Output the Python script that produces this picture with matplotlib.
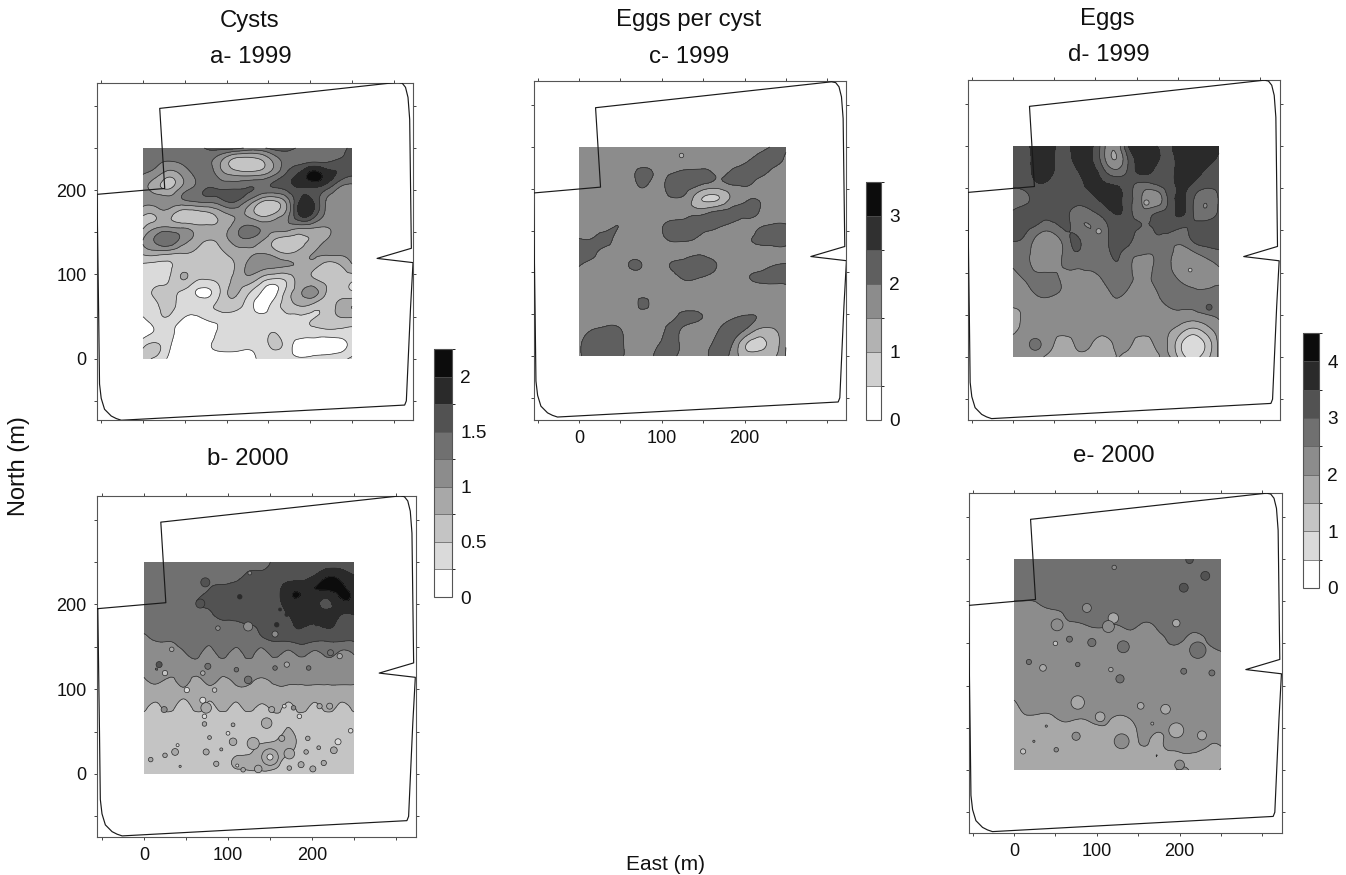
import numpy as np
import matplotlib
matplotlib.use("Agg")
import matplotlib.pyplot as plt
from matplotlib.colors import ListedColormap, BoundaryNorm
from matplotlib.cm import ScalarMappable
from matplotlib.patches import Rectangle
from matplotlib.tri import Triangulation, UniformTriRefiner

plt.rcParams['font.family'] = ['Liberation Sans', 'DejaVu Sans']

# sampling positions of every map (m); rows run north to south
east = [0, 15.6, 31.25, 46.9, 62.5, 78.1, 93.75, 109.4, 125, 140.6, 156.25, 171.9, 187.5, 203.1, 218.75, 234.4, 250]
north = east[::-1]

boundary_east = [-55, 26, 20, 305, 310, 314, 317, 319, 321, 280, 323, 320, 315, 313, -26, -32, -38, -46, -50, -52, -53, -55]
boundary_north = [195, 202, 297, 328, 327, 322, 310, 284, 131, 119, 114, 60, -50, -55, -73, -71, -68, -60, -47, -30, 50, 195]

cysts_1999 = [
 [1.35,1.35,1.35,1.35,1.4,1.55,1.6,1.6,1.45,1.45,1.6,1.6,1.45,1.4,1.4,1.45,1.55],
 [1.35,1.3,1.25,1.3,1.35,1.3,1.0,.65,.6,.7,1.05,1.35,1.4,1.45,1.45,1.55,1.7],
 [1.25,1.1,.85,1.05,1.3,1.4,1.1,.95,.9,.95,1.2,1.55,1.8,2.1,1.9,1.7,1.55],
 [1.15,.85,.7,1.05,1.3,1.5,1.45,1.45,1.5,1.45,1.5,1.6,1.75,1.75,1.6,1.25,1.15],
 [1.1,1.1,1.1,1.2,1.3,1.35,1.45,1.55,1.25,.85,.75,1.1,1.75,1.75,1.25,1.1,1.1],
 [.8,.8,.85,.6,.6,.7,.9,1.05,.95,.65,.75,1.1,1.8,1.7,1.2,1.1,1.1],
 [.7,.95,1.0,.95,.85,.8,.85,1.1,1.3,1.2,1.1,1.15,1.1,1.05,1.0,1.1,1.1],
 [1.0,1.3,1.45,1.15,.9,.75,.85,1.1,1.2,1.05,.75,.6,.65,.8,1.0,1.1,1.1],
 [.8,.85,.8,.75,.7,.65,.7,.85,.95,1.0,.9,.75,.85,1.0,1.05,1.05,1.05],
 [.45,.4,.45,.65,.6,.6,.6,.75,1.05,1.1,1.05,1.0,.95,.85,.6,.7,.95],
 [.45,.4,.5,.75,.55,.5,.6,.8,.9,.65,.45,.55,.85,.8,.65,.65,.55],
 [.4,.55,.6,.45,.25,.2,.55,.8,.55,.25,.15,.6,.95,1.1,.75,.6,.55],
 [.4,.45,.6,.4,.4,.45,.6,.6,.4,.15,.35,.6,.75,.65,.55,.85,1.0],
 [.2,.4,.45,.25,.15,.3,.35,.4,.4,.35,.4,.45,.45,.5,.6,.7,.7],
 [.1,.3,.35,.1,.05,.1,.35,.4,.4,.4,.5,.4,.4,.4,.4,.4,.4],
 [.45,.55,.3,.05,0,.2,.35,.35,.3,.35,.55,.4,.1,.1,.1,.15,.35],
 [.5,.45,.2,.05,0,.05,.1,.1,.15,.3,.35,.35,.3,.35,.4,.45,.55],
]

cysts_2000 = [
 [1.35,1.35,1.35,1.35,1.35,1.35,1.35,1.35,1.35,1.4,1.55,1.55,1.55,1.55,1.55,1.55,1.55],
 [1.35,1.35,1.35,1.35,1.35,1.35,1.35,1.4,1.55,1.55,1.6,1.6,1.6,1.75,1.95,1.9,1.75],
 [1.35,1.35,1.35,1.35,1.35,1.5,1.55,1.6,1.6,1.6,1.65,1.9,1.95,2.0,2.05,2.05,1.95],
 [1.35,1.35,1.35,1.35,1.5,1.55,1.55,1.6,1.6,1.6,1.65,1.9,1.95,1.85,1.7,1.95,1.95],
 [1.3,1.3,1.3,1.3,1.35,1.45,1.55,1.55,1.6,1.55,1.65,1.75,1.85,1.85,1.85,1.75,1.75],
 [1.3,1.3,1.3,1.3,1.3,1.35,1.4,1.45,1.45,1.55,1.65,1.7,1.75,1.7,1.75,1.65,1.6],
 [1.15,1.25,1.25,1.3,1.3,1.3,1.35,1.35,1.3,1.4,1.5,1.5,1.55,1.5,1.5,1.5,1.5],
 [1.15,1.1,1.15,1.2,1.3,1.15,1.3,1.15,1.3,1.15,1.3,1.15,1.3,1.15,1.3,1.15,1.25],
 [1.1,1.25,1.1,1.05,1.1,1.1,1.1,1.1,1.1,1.1,1.1,1.1,1.1,1.1,1.1,1.1,1.1],
 [.95,1.05,.95,1.05,.95,1.05,.95,1.05,1.05,.95,1.05,1.05,1.05,1.05,1.05,1.05,1.05],
 [.85,.85,.85,.85,.85,.85,.85,.85,.85,.85,.85,.85,.85,.85,.85,.85,.85],
 [.8,.7,.8,.65,.8,.7,.8,.7,.8,.7,.8,.7,.8,.7,.8,.7,.8],
 [.62,.62,.62,.62,.62,.62,.62,.62,.62,.62,.65,.7,.65,.62,.62,.62,.62],
 [.62,.62,.62,.62,.62,.62,.62,.62,.7,.65,.65,.8,.65,.62,.62,.62,.62],
 [.62,.62,.62,.62,.62,.62,.62,.62,.7,.8,.85,.85,.65,.62,.62,.62,.62],
 [.62,.62,.62,.62,.62,.62,.62,.8,.8,.85,.85,.65,.62,.62,.62,.62,.62],
 [.65,.62,.62,.62,.62,.62,.62,.62,.7,.7,.65,.65,.62,.62,.62,.62,.62],
]
b_x = [73,67,114,88,124,158,185,223,205,162,170,156,126,33,18,25,51,76,110,124,156,170,196,222,233,70,84,70,24,74,72,72,152,167,178,185,209,221,146,106,100,106,130,78,40,37,25,74,92,8,86,43,111,150,150,173,187,193,208,226,231,246,195,214,136,201,173,118,164]
b_y = [226,201,209,172,174,176,176,178,176,194,188,165,237,147,129,119,99,127,123,111,125,129,125,143,139,119,99,87,76,78,68,59,76,80,78,68,80,80,60,58,48,38,36,43,34,26,22,26,29,17,12,9,10,20,20,24,11,26,31,28,38,51,42,13,6,6,7,5,42]
b_v = [1.6,1.6,1.85,1.1,1.2,1.85,1.9,1.9,1.9,1.85,1.85,1.2,1.1,.85,1.6,.6,.3,1.35,1.35,1.35,1.35,.85,1.35,1.35,.85,.85,.6,.45,1.2,.85,.45,.85,.85,.45,1.2,.4,.85,.85,.85,.85,.45,.85,.85,.85,.45,.85,.85,.85,.85,.85,.85,.85,.45,.85,.45,.85,.85,.85,.85,.85,.45,.4,.85,.85,.85,.85,.85,.85,.85]
b_d = [12,12,6,6,12,6,8,8,3,4,5,8,5,6,8,7,7,8,6,10,6,7,6,8,7,6,6,8,8,14,6,6,8,5,6,6,7,8,14,5,5,10,16,5,4,9,6,8,4,6,7,3,4,22,8,14,8,6,5,9,8,6,6,7,10,8,6,6,8]

eggs_per_cyst = [
 [1.75,1.75,1.75,1.75,1.75,1.75,1.75,1.75,1.75,1.75,1.75,1.75,1.75,1.75,1.8,2.05,2.05],
 [1.75,1.75,1.75,1.75,1.75,1.75,1.75,1.75,1.75,1.75,1.75,1.75,1.75,1.95,2.2,2.2,1.9],
 [1.75,1.75,1.75,1.75,1.85,2.2,1.9,1.95,2.1,2.15,2.1,1.9,2.15,2.25,2.15,1.85,1.75],
 [1.75,1.75,1.75,1.75,1.75,2.05,1.75,2.2,2.25,2.05,1.75,1.75,1.95,2.0,1.75,1.75,1.75],
 [1.75,1.75,1.75,1.75,1.75,1.75,1.75,1.9,1.9,1.3,.9,1.1,1.7,1.95,1.95,1.75,1.75],
 [1.75,1.75,1.75,1.75,1.75,1.75,1.75,1.75,1.75,1.8,1.95,2.15,2.2,2.2,1.95,1.75,1.75],
 [1.75,1.75,1.8,2.0,1.75,1.75,1.85,2.15,2.25,2.25,2.2,2.05,1.85,1.75,1.95,2.05,2.05],
 [2.0,2.0,2.15,1.85,1.75,1.75,1.75,2.1,2.15,2.0,1.75,1.75,1.75,1.9,2.15,2.25,2.25],
 [2.25,2.15,1.85,1.75,1.75,1.75,1.75,1.75,1.75,1.9,1.75,1.75,1.75,1.75,1.75,1.8,1.8],
 [2.05,1.85,1.75,1.75,2.05,1.95,1.75,2.0,2.2,2.25,2.2,1.9,1.75,1.75,1.75,1.95,2.05],
 [1.75,1.75,1.75,1.75,1.75,1.75,1.75,1.75,2.05,2.05,1.9,1.75,1.75,1.95,2.1,2.2,2.25],
 [1.75,1.75,1.75,1.75,1.75,1.75,1.75,1.75,1.75,1.75,1.75,1.75,1.75,1.75,1.75,1.75,1.75],
 [1.75,1.75,1.75,1.75,1.75,2.1,1.75,1.75,1.75,1.75,1.75,1.75,1.75,1.75,1.75,1.75,1.75],
 [1.75,1.75,1.75,1.75,1.75,1.75,1.75,1.9,2.1,2.1,1.85,1.75,1.95,2.05,1.95,1.75,2.0],
 [1.75,2.0,2.1,2.1,1.75,1.75,1.75,2.1,1.95,1.75,1.75,2.1,2.25,1.9,1.4,1.45,1.75],
 [1.9,2.25,2.25,2.2,1.75,1.75,1.9,2.2,1.9,1.75,1.9,2.25,1.9,1.0,.85,1.2,1.95],
 [1.9,2.25,2.25,2.15,1.8,1.75,2.1,2.2,1.8,1.75,2.0,2.2,1.7,1.3,1.3,1.4,2.05],
]
c_x = [123]
c_y = [240]
c_v = [1.25]
c_d = [6]

eggs_1999 = [
 [3.2,3.4,3.7,3.6,3.4,3.7,3.65,2.7,2.1,3.55,3.75,3.55,3.4,3.7,3.8,3.8,3.6],
 [3.2,3.35,3.7,3.6,3.3,3.7,3.6,2.7,2.0,3.1,3.7,3.65,3.35,3.7,3.85,3.7,3.4],
 [3.2,3.35,3.65,3.55,3.3,3.45,3.7,3.2,2.7,3.15,3.6,3.4,3.3,3.7,3.75,3.4,3.2],
 [3.05,3.2,3.45,3.35,3.25,3.35,3.6,3.6,3.5,3.2,2.8,2.9,3.25,3.6,3.4,3.1,3.1],
 [2.7,2.9,3.2,3.2,3.2,3.2,3.35,3.6,3.65,3.2,2.5,2.1,3.0,3.6,3.05,2.6,3.05],
 [3.05,3.2,3.15,3.2,3.15,2.8,2.9,3.25,3.55,3.2,2.65,2.9,3.2,3.6,3.0,2.6,3.1],
 [3.15,3.15,2.95,2.85,3.1,2.7,2.5,2.8,3.3,3.25,3.0,3.1,3.35,3.15,3.05,3.2,3.15],
 [3.05,2.9,2.3,2.25,2.75,3.05,2.6,2.75,3.3,3.2,2.7,2.9,2.8,2.7,3.1,3.25,3.2],
 [2.8,2.65,2.2,2.15,2.6,3.0,2.65,2.75,3.1,2.8,2.6,2.6,2.65,2.3,2.5,2.8,2.95],
 [2.55,2.6,2.3,2.3,2.55,2.6,2.6,2.7,2.95,2.65,2.2,2.55,2.6,2.2,2.05,2.3,2.55],
 [2.35,2.55,2.65,2.65,2.4,2.35,2.35,2.55,2.7,2.6,2.35,2.6,2.7,2.4,2.25,2.35,2.4],
 [2.2,2.35,2.65,2.65,2.4,2.2,2.2,2.35,2.6,2.45,2.3,2.45,2.7,2.7,2.55,2.55,2.6],
 [2.05,2.1,2.25,2.25,2.15,2.1,2.1,2.15,2.35,2.2,2.15,2.3,2.55,2.65,2.6,2.8,2.65],
 [1.9,2.05,2.1,2.1,2.1,2.1,2.1,2.1,2.1,2.1,2.1,2.1,2.2,2.25,2.2,2.35,2.55],
 [1.95,2.1,2.2,2.1,2.1,2.1,2.1,2.1,2.1,2.1,2.1,2.1,2.05,1.7,1.3,1.7,2.2],
 [2.1,2.15,2.4,2.1,1.8,2.1,2.05,1.8,2.1,2.1,1.8,2.05,2.0,1.1,0.6,1.1,2.15],
 [2.1,2.1,2.1,1.75,1.6,1.8,1.7,1.6,2.0,1.75,1.6,1.8,2.1,1.3,0.85,1.3,2.1],
]
d_x = [104,215,162,238,27]
d_y = [149,103,183,59,15]
d_v = [1.75,1.25,1.75,3.25,2.75]
d_d = [7,5,7,8,16]

eggs_2000 = [
 [2.75,2.75,2.75,2.75,2.75,2.75,2.75,2.75,2.75,2.75,2.75,2.75,2.75,2.75,2.75,2.75,2.75],
 [2.75,2.75,2.75,2.75,2.75,2.75,2.75,2.75,2.75,2.75,2.75,2.75,2.75,2.75,2.75,2.75,2.75],
 [2.75,2.75,2.75,2.75,2.75,2.75,2.75,2.75,2.75,2.75,2.75,2.75,2.75,2.75,2.75,2.75,2.75],
 [2.55,2.55,2.6,2.75,2.75,2.75,2.75,2.75,2.75,2.75,2.75,2.75,2.75,2.75,2.75,2.75,2.75],
 [2.3,2.3,2.4,2.45,2.55,2.7,2.75,2.75,2.75,2.75,2.75,2.75,2.75,2.75,2.75,2.75,2.75],
 [2.2,2.25,2.3,2.35,2.45,2.45,2.55,2.55,2.5,2.6,2.45,2.55,2.65,2.6,2.65,2.65,2.7],
 [2.25,2.25,2.25,2.25,2.25,2.25,2.3,2.3,2.35,2.35,2.35,2.4,2.55,2.55,2.4,2.55,2.65],
 [2.25,2.25,2.25,2.25,2.25,2.25,2.25,2.25,2.25,2.25,2.25,2.3,2.4,2.3,2.3,2.4,2.5],
 [2.25,2.25,2.25,2.25,2.25,2.25,2.25,2.25,2.25,2.25,2.25,2.25,2.25,2.25,2.25,2.25,2.25],
 [2.25,2.25,2.25,2.25,2.25,2.25,2.25,2.25,2.25,2.25,2.25,2.25,2.25,2.25,2.25,2.25,2.25],
 [2.25,2.25,2.25,2.25,2.25,2.25,2.25,2.25,2.25,2.25,2.25,2.25,2.25,2.25,2.25,2.25,2.25],
 [1.9,2.2,2.25,2.25,2.25,2.25,2.25,2.25,2.25,2.25,2.25,2.25,2.25,2.25,2.25,2.25,2.25],
 [1.8,1.95,1.9,1.95,2.15,2.05,2.15,2.15,1.95,2.05,2.2,2.25,2.25,2.25,2.25,2.25,2.25],
 [1.75,1.75,1.75,1.75,1.75,1.75,1.8,1.9,1.75,1.8,2.15,2.05,2.1,2.2,2.2,2.2,2.2],
 [1.75,1.75,1.75,1.75,1.75,1.75,1.75,1.75,1.75,1.75,2.05,1.9,2.15,2.25,2.25,2.05,2.05],
 [1.75,1.75,1.75,1.75,1.75,1.75,1.75,1.75,1.75,1.75,1.75,2.0,1.8,1.9,1.85,1.8,1.85],
 [1.75,1.75,1.75,1.75,1.75,1.75,1.75,1.75,1.75,1.75,1.75,1.75,1.8,2.1,1.8,1.75,2.05],
]
e_x = [121,212,231,205,88,52,120,114,196,50,67,94,132,222,18,35,77,117,128,205,239,77,104,153,183,196,227,167,75,130,51,11,39,24,200]
e_y = [240,249,230,216,192,172,180,170,174,150,155,151,146,142,128,121,125,119,108,117,115,80,63,76,72,47,41,55,40,34,24,22,52,34,6]
e_v = [2.25,3.25,3.25,3.25,2.25,2.25,1.75,2.25,1.75,1.25,2.75,2.75,2.75,2.75,2.75,1.75,2.75,1.75,2.75,2.75,2.75,1.75,1.75,1.75,1.75,1.75,1.75,1.75,2.25,2.25,2.25,1.25,2.25,2.25,2.25]
e_d = [6,10,12,12,12,16,14,16,10,6,8,11,16,22,7,9,6,6,11,8,8,18,13,9,13,20,12,4,11,20,6,7,3,3,13]

levels_cysts = [0, .25, .5, .75, 1, 1.25, 1.5, 1.75, 2, 2.25]
levels_epc = [0, .5, 1, 1.5, 2, 2.5, 3, 3.5]
levels_eggs = [0, .5, 1, 1.5, 2, 2.5, 3, 3.5, 4, 4.5]
labels_cysts = [0, .5, 1, 1.5, 2]
labels_epc = [0, 1, 2, 3]
labels_eggs = [0, 1, 2, 3, 4]

grays9 = [255, 218, 196, 168, 140, 112, 82, 42, 12]
grays7 = [255, 208, 178, 140, 95, 48, 12]

W, H = 1346, 875
fig = plt.figure(figsize=(W / 100, H / 100), dpi=100)
TICK = 13


def gray_map(vals):
    return ListedColormap([(g / 255,) * 3 for g in vals])


def panel(rect, cal, field, levels, grays, xlab=False, ylab=False, spots=None):
    l, r, t, b = rect
    x0, x250, y0, y250 = cal
    ax = fig.add_axes([l / W, 1 - b / H, (r - l) / W, (b - t) / H])
    sx = 250 / (x250 - x0)
    sy = 250 / (y0 - y250)
    ax.set_xlim((l - x0) * sx, (r - x0) * sx)
    ax.set_ylim((y0 - b) * sy, (y0 - t) * sy)
    cmap = gray_map(grays)
    norm = BoundaryNorm(levels, cmap.N)
    X, Y = np.meshgrid(east, north)
    tri = Triangulation(X.ravel(), Y.ravel())
    fine, z = UniformTriRefiner(tri).refine_field(np.array(field, float).ravel(), subdiv=3)
    z = np.clip(z, levels[0] + 1e-3, levels[-1] - 1e-3)
    ax.tricontourf(fine, z, levels=levels, cmap=cmap, norm=norm, zorder=1)
    ax.tricontour(fine, z, levels=levels[1:-1], colors='#2a2a2a', linewidths=0.5, zorder=2)
    if spots is not None:
        sxs, sys, svs, sds = spots
        px = (x250 - x0) / 250 * 72 / 100 * 0.9
        sizes = (np.array(sds, float) * px) ** 2
        sc = ax.scatter(sxs, sys, c=svs, s=sizes, cmap=cmap, norm=norm,
                        edgecolors='#2a2a2a', linewidths=0.5, zorder=3)
        sc.set_clip_path(Rectangle((0, 0), 250, 250, transform=ax.transData))
    ax.plot(boundary_east, boundary_north, color='#1a1a1a', lw=0.85, zorder=4)
    ticks = list(range(-50, 301, 50))
    ax.set_xticks(ticks)
    ax.set_yticks(ticks)
    ax.set_xticklabels([str(v) if (xlab and v in (0, 100, 200)) else '' for v in ticks])
    ax.set_yticklabels([str(v) if (ylab and v in (0, 100, 200)) else '' for v in ticks])
    ax.tick_params(axis='both', which='major', direction='out', length=2.5, width=0.7,
                   color='#444444', labelsize=TICK, labelcolor='#111111', top=True, right=True, pad=5)
    for s in ax.spines.values():
        s.set_linewidth(0.8)
        s.set_color('#555555')
    return ax


def bar(rect, levels, grays, labels):
    l, r, t, b = rect
    cax = fig.add_axes([l / W, 1 - b / H, (r - l) / W, (b - t) / H])
    cmap = gray_map(grays)
    norm = BoundaryNorm(levels, cmap.N)
    cb = fig.colorbar(ScalarMappable(norm=norm, cmap=cmap), cax=cax, drawedges=True,
                      spacing='proportional', ticks=labels)
    cb.ax.set_yticklabels([f'{v:g}' for v in labels])
    cb.ax.tick_params(length=0, labelsize=TICK + 0.7, labelcolor='#111111', pad=6)
    cb.outline.set_linewidth(0.8)
    cb.outline.set_edgecolor('#555555')
    cb.dividers.set_linewidth(0.5)
    cb.dividers.set_color('#555555')


panel((97, 413, 83, 420), (143, 352, 358.7, 148), cysts_1999, levels_cysts, grays9, ylab=True)
panel((97, 416, 496, 837), (144, 354, 774, 562), cysts_2000, levels_cysts, grays9, xlab=True, ylab=True,
      spots=(b_x, b_y, b_v, b_d))
panel((534, 846, 81, 420), (579, 786, 356, 147), eggs_per_cyst, levels_epc, grays7, xlab=True,
      spots=(c_x, c_y, c_v, c_d))
panel((968, 1280, 80, 420), (1013, 1219, 357, 146), eggs_1999, levels_eggs, grays9,
      spots=(d_x, d_y, d_v, d_d))
panel((969, 1282, 493, 833), (1014, 1221, 770, 559), eggs_2000, levels_eggs, grays9, xlab=True,
      spots=(e_x, e_y, e_v, e_d))

bar((434, 452, 349, 597), levels_cysts, grays9, labels_cysts)
bar((866, 881, 182, 420), levels_epc, grays7, labels_epc)
bar((1303, 1319, 333, 588), levels_eggs, grays9, labels_eggs)


def label(x, y, s, size=17.3, **kw):
    fig.text(x / W, 1 - y / H, s, fontsize=size, ha='center', va='center', color='#111111', **kw)


label(250, 21, 'Cysts')
label(251, 57, 'a- 1999')
label(248, 459, 'b- 2000')
label(689, 20, 'Eggs per cyst')
label(689, 57, 'c- 1999')
label(1107, 19, 'Eggs')
label(1109, 55, 'd- 1999')
label(1114, 456, 'e- 2000')
label(19, 466, 'North (m)', size=17, rotation=90)
label(666, 864, 'East (m)', size=15)

fig.savefig('out.png', dpi=100, facecolor='white')
